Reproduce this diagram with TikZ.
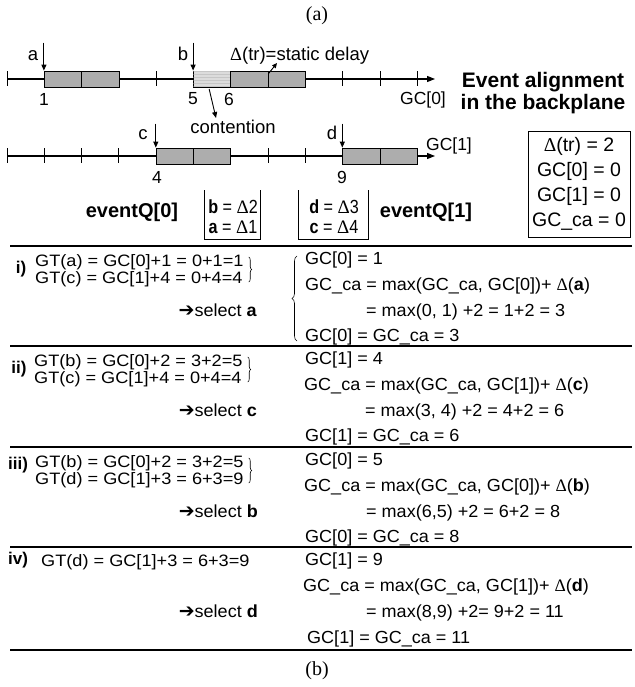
\documentclass[tikz,border=0pt]{standalone}
\usepackage{fontspec}
\setmainfont{Liberation Sans}
\newfontfamily\wid{Liberation Sans}[FakeStretch=1.03]
\newfontfamily\widr{Liberation Sans}[FakeStretch=1.1]
\newfontfamily\nar{Liberation Sans}[FakeStretch=0.85]
\newfontfamily\serifff{Liberation Serif}
\newfontfamily\djv{DejaVu Sans}
\usetikzlibrary{arrows.meta,patterns,decorations.pathreplacing,calc}
\newcommand{\Dlt}{{\serifff Δ}}
\newcommand{\selarrow}{{\djv\fontsize{19}{19}\selectfont ➔}}
\definecolor{boxgray}{HTML}{ADADAD}
\definecolor{hatchgray}{HTML}{DCDCDC}
\begin{document}
\begin{tikzpicture}[x=1pt,y=-1pt,
  fsz/.style={font=\fontsize{#1}{#1}\selectfont},
  wfs/.style={font=\wid\fontsize{#1}{#1}\selectfont},
  evbox/.style={draw, fill=boxgray, line width=0.8pt, minimum height=16pt, minimum width=37.3pt, inner sep=0pt},
  hbox/.style={evbox, fill=hatchgray, postaction={pattern=horizontal lines, pattern color=gray!45}},
  axl/.style={line width=1.1pt, -{Triangle[length=8pt,width=6pt]}},
  tk/.style={line width=1pt},
  larr/.style={line width=1pt, -{Triangle[length=6pt,width=5pt]}},
  sepl/.style={line width=1.4pt},
  qline/.style={line width=0.9pt},
  toplbl/.style={inner sep=0pt, anchor=base, fsz=18.5},
  numlbl/.style={inner sep=0pt, fsz=17.5},
  Lt/.style={anchor=west, inner sep=0pt, text height=11.8pt, text depth=0pt, font=\widr\fontsize{16.5}{16.5}\selectfont},
  Rt/.style={anchor=west, inner sep=0pt, text height=12.5pt, text depth=0pt, wfs=17.5},
  St/.style={anchor=east, inner sep=0pt, text height=12.5pt, text depth=0pt, wfs=17.5},
  rn/.style={inner sep=0pt, font=\bfseries\fontsize{17}{17}\selectfont},
  brc/.style={decorate, decoration={brace, amplitude=3pt}, line width=0.6pt},
  bigbrc/.style={decorate, decoration={brace, amplitude=5pt}, line width=0.6pt}
]
\useasboundingbox (0,0) rectangle (634,687);

% ---------- (a) ----------
\node[font=\serifff\fontsize{20}{20}\selectfont] (capa) at (317,16) {(a)};

% ---------- axis GC[0] ----------
\coordinate (ax0s) at (7,79);
\coordinate (ax0e) at (435,79);
\draw[axl] (ax0s) -- (ax0e);
\foreach \i in {0,...,11} \draw[tk] ({7+37.3*\i},71.5) -- ({7+37.3*\i},86.5);
\node[evbox] (a1) at (62.95,79) {};
\node[evbox] (a2) at (100.25,79) {};
\node[hbox]  (b0) at (212.15,79) {};
\node[evbox] (b1) at (249.45,79) {};
\node[evbox] (b2) at (286.75,79) {};

% ---------- axis GC[1] ----------
\coordinate (ax1s) at (7,156);
\coordinate (ax1e) at (435,156);
\draw[axl] (ax1s) -- (ax1e);
\foreach \i in {0,...,11} \draw[tk] ({7+37.3*\i},148.5) -- ({7+37.3*\i},163.5);
\node[evbox] (c1) at (174.85,156) {};
\node[evbox] (c2) at (212.15,156) {};
\node[evbox] (d1) at (361.35,156) {};
\node[evbox] (d2) at (398.65,156) {};

% event labels and arrows
\node[toplbl] (la) at (33,61) {a};
\node[toplbl] (lb) at (183,61) {b};
\node[toplbl] (lc) at (143,140) {c};
\node[toplbl] (ld) at (332,140) {d};
\draw[larr] ([yshift=28pt]a1.north west) -- (a1.north west);
\draw[larr] ([yshift=28pt]b0.north west) -- (b0.north west);
\draw[larr] ([yshift=24pt]c1.north west) -- (c1.north west);
\draw[larr] ([yshift=24pt]d1.north west) -- (d1.north west);

% time numbers
\node[numlbl] (n1) at (44,99) {1};
\node[numlbl] (n5) at (193,99) {5};
\node[numlbl] (n6) at (229,99) {6};
\node[numlbl] (n4) at (157,177) {4};
\node[numlbl] (n9) at (342,177) {9};

% static delay / contention
\node[inner sep=0pt, anchor=base west, fsz=18.5] (dtr) at (230,61) {\Dlt(tr)=static delay};
\coordinate (dtrp) at (277,63);
\draw[line width=0.9pt, -{Triangle[length=5pt,width=4.5pt]}] ([yshift=-3pt]b1.north east) -- (dtrp);
\node[inner sep=0pt, fsz=18.5] (cont) at (233,127) {contention};
\draw[line width=0.9pt, -{Triangle[length=6pt,width=5pt]}] ([shift={(-3pt,-10pt)}]b0.center) -- ([xshift=-17pt,yshift=2pt]cont.north);

% axis labels
\node[inner sep=0pt, fsz=17.5] (gc0) at (423,100) {GC[0]};
\node[inner sep=0pt, fsz=17.5] (gc1) at (449,146) {GC[1]};
\node[align=center, inner sep=0pt, font=\bfseries\fontsize{21}{22}\selectfont] (ev) at (543,93) {Event alignment\\in the backplane};

% initial values box
\node[draw, line width=0.8pt, minimum width=102pt, minimum height=106pt, inner sep=2pt, align=center, font=\fontsize{19.5}{25}\selectfont] (init) at (579,184) {\Dlt(tr) = 2\\GC[0] = 0\\GC[1] = 0\\GC\_ca = 0};

% event queues
\node[inner sep=0pt, font=\bfseries\fontsize{20}{20}\selectfont] (eq0) at (132,212) {eventQ[0]};
\node[inner sep=0pt, font=\bfseries\fontsize{20}{20}\selectfont] (eq1) at (426,212) {eventQ[1]};
\node[inner sep=0pt, align=center, font=\nar\fontsize{19}{20}\selectfont] (q0) at (233,217) {\textbf{b} = \Dlt2\\\textbf{a} = \Dlt1};
\node[inner sep=0pt, align=center, font=\nar\fontsize{19}{20}\selectfont] (q1) at (334,217) {\textbf{d} = \Dlt3\\\textbf{c} = \Dlt4};
\draw[qline] (204,190) -- (204,239) -- (260,239) -- (260,190);
\draw[qline] (298,190) -- (298,239) -- (368,239) -- (368,190);

% separators
\draw[sepl] (10,246) -- (632,246);
\draw[sepl] (10,346) -- (632,346);
\draw[sepl] (10,447) -- (632,447);
\draw[sepl] (10,547) -- (632,547);
\draw[sepl] (10,650) -- (632,650);

% ---------- step i ----------
\node[rn] (r1) at (21,269) {i)};
\node[Lt] (g1a) at (35,261) {GT(a) = GC[0]+1 = 0+1=1};
\node[Lt] (g1b) at (35,278) {GT(c) = GC[1]+4 = 0+4=4};
\coordinate (b1t) at ([xshift=5pt,yshift=4pt]g1a.east);
\draw[brc] (b1t) -- ($(b1t)+(0,25)$);
\node[St] (s1) at (257,310) {\selarrow select \textbf{a}};
\coordinate (bb1) at (297,341);
\draw[bigbrc] (bb1) -- ($(bb1)+(0,-85)$);
\node[Rt] (c1a) at (305,258) {GC[0] = 1};
\node[Rt] (c1b) at (305,284) {GC\_ca = max(GC\_ca, GC[0])+ \Dlt(\textbf{a})};
\node[Rt] (c1c) at (366,310) {= max(0, 1) +2 = 1+2 = 3};
\node[Rt] (c1d) at (305,335) {GC[0] = GC\_ca = 3};

% ---------- step ii ----------
\node[rn] (r2) at (19,369) {ii)};
\node[Lt] (g2a) at (34,361) {GT(b) = GC[0]+2 = 3+2=5};
\node[Lt] (g2b) at (34,378) {GT(c) = GC[1]+4 = 0+4=4};
\coordinate (b2t) at ([xshift=5pt,yshift=4pt]g2a.east);
\draw[brc] (b2t) -- ($(b2t)+(0,25)$);
\node[St] (s2) at (257,410) {\selarrow select \textbf{c}};
\node[Rt] (c2a) at (305,358) {GC[1] = 4};
\node[Rt] (c2b) at (304,384) {GC\_ca = max(GC\_ca, GC[1])+ \Dlt(\textbf{c})};
\node[Rt] (c2c) at (365,410) {= max(3, 4) +2 = 4+2 = 6};
\node[Rt] (c2d) at (305,435) {GC[1] = GC\_ca = 6};

% ---------- step iii ----------
\node[rn] (r3) at (18,465) {iii)};
\node[Lt] (g3a) at (35,462) {GT(b) = GC[0]+2 = 3+2=5};
\node[Lt] (g3b) at (35,479) {GT(d) = GC[1]+3 = 6+3=9};
\coordinate (b3t) at ([xshift=5pt,yshift=4pt]g3a.east);
\draw[brc] (b3t) -- ($(b3t)+(0,25)$);
\node[St] (s3) at (258,511) {\selarrow select \textbf{b}};
\node[Rt] (c3a) at (305,459) {GC[0] = 5};
\node[Rt] (c3b) at (304,485) {GC\_ca = max(GC\_ca, GC[0])+ \Dlt(\textbf{b})};
\node[Rt] (c3c) at (366,511) {= max(6,5) +2 = 6+2 = 8};
\node[Rt] (c3d) at (305,536) {GC[0] = GC\_ca = 8};

% ---------- step iv ----------
\node[rn] (r4) at (18,560) {iv)};
\node[Lt] (g4a) at (41,561) {GT(d) = GC[1]+3 = 6+3=9};
\node[St] (s4) at (258,611) {\selarrow select \textbf{d}};
\node[Rt] (c4a) at (305,559) {GC[1] = 9};
\node[Rt] (c4b) at (303,585) {GC\_ca = max(GC\_ca, GC[1])+ \Dlt(\textbf{d})};
\node[Rt] (c4c) at (366,611) {= max(8,9) +2= 9+2 = 11};
\node[Rt] (c4d) at (307,637) {GC[1] = GC\_ca = 11};

% ---------- (b) ----------
\node[font=\serifff\fontsize{20}{20}\selectfont] (capb) at (317,671) {(b)};
\end{tikzpicture}
\end{document}
